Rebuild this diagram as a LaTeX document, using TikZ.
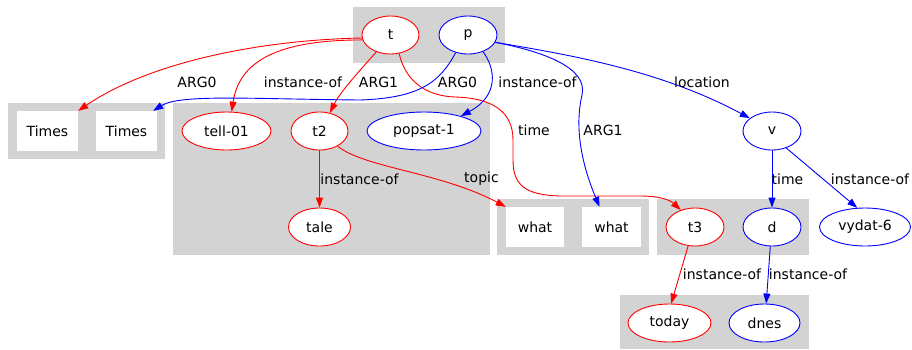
\documentclass[tikz,border=0pt]{standalone}
\usepackage{fontspec}
\setmainfont{DejaVu Sans}
\usetikzlibrary{shapes.geometric,arrows.meta}
\definecolor{clgray}{RGB}{211,211,211}
\begin{document}
\begin{tikzpicture}[x=1pt,y=-1pt,
  font=\fontsize{14}{16}\selectfont,
  ell/.style={ellipse,draw,fill=white,inner sep=0pt,minimum height=38pt,line width=0.9pt},
  rnode/.style={ell,draw=red},
  bnode/.style={ell,draw=blue},
  wbox/.style={rectangle,fill=white,draw=none,minimum width=60pt,minimum height=40pt,inner sep=0pt},
  redge/.style={draw=red,line width=0.9pt,-{Triangle[length=10pt,width=7pt]}},
  bedge/.style={draw=blue,line width=0.9pt,-{Triangle[length=10pt,width=7pt]}},
  lbl/.style={inner sep=0pt,text=black}
]
\useasboundingbox (0,0) rectangle (912,349);
% clusters
\fill[clgray] (353,7) rectangle (505,63);
\fill[clgray] (8,103) rectangle (165,159);
\fill[clgray] (173,103) rectangle (490,255);
\fill[clgray] (497,199) rectangle (649,255);
\fill[clgray] (657,199) rectangle (809,255);
\fill[clgray] (620,295) rectangle (809,349);

% nodes
\node[rnode,minimum width=57pt] (t) at (390.5,35) {t};
\node[bnode,minimum width=58pt] (p) at (468,35) {p};
\node[wbox,minimum width=61pt] (times1) at (47.5,131) {Times};
\node[wbox,minimum width=61pt] (times2) at (126.5,131) {Times};
\node[rnode,minimum width=89pt] (tell) at (226.5,131) {tell-01};
\node[rnode,minimum width=57pt] (t2) at (319.5,131) {t2};
\node[bnode,minimum width=114pt] (popsat) at (424,131) {popsat-1};
\node[rnode,minimum width=62pt] (tale) at (319.5,227) {tale};
\node[wbox,minimum width=58pt] (what1) at (535,227) {what};
\node[wbox,minimum width=59pt] (what2) at (611.5,227) {what};
\node[rnode,minimum width=58pt] (t3) at (695,227) {t3};
\node[bnode,minimum width=58pt] (d) at (772,227) {d};
\node[bnode,minimum width=58pt] (v) at (772,131) {v};
\node[bnode,minimum width=91pt] (vydat) at (865,227) {vydat-6};
\node[rnode,minimum width=83pt] (today) at (669.5,323) {today};
\node[bnode,minimum width=71pt] (dnes) at (764.5,323) {dnes};

% red edges
\draw[redge] (t.186) .. controls (260,40) and (150,62) .. (times1.north east);
\draw[redge] (t.190) .. controls (290,40) and (240,55) .. (tell.75);
\draw[redge] (t.230) .. controls (362,68) and (340,92) .. (t2.60);
\draw[redge] (t.295) .. controls (405,80) and (425,96) .. (455,97)
  .. controls (490,98) and (513,110) .. (513,140) -- (513,160)
  .. controls (513,185) and (525,195) .. (560,196) -- (640,196)
  .. controls (660,196) and (670,200) .. (t3.130);
\draw[redge] (t2.south) -- (tale.north);
\draw[redge] (t2.320) .. controls (365,168) and (440,172) .. (what1.north west);
\draw[redge] (t3.250) -- (today.85);

% blue edges
\draw[bedge] (p.235) .. controls (440,82) and (420,98) .. (360,100)
  .. controls (250,99) and (180,94) .. ([xshift=-4pt]times2.north east);
\draw[bedge] (p.312) .. controls (495,68) and (500,95) .. (popsat.22);
\draw[bedge] (p.345) .. controls (545,52) and (588,68) .. (582,95)
  .. controls (575,125) and (580,160) .. ([xshift=-12pt]what2.north);
\draw[bedge] (p.345) .. controls (570,55) and (660,70) .. (v.150);
\draw[bedge] (v.south) -- (d.north);
\draw[bedge] (v.310) -- (vydat.112);
\draw[bedge] (d.265) -- (dnes.85);

% labels
\node[lbl] (l1) at (197,82) {ARG0};
\node[lbl] (l2) at (303,82) {instance-of};
\node[lbl] (l3) at (378.5,82) {ARG1};
\node[lbl] (l4) at (457.5,82) {ARG0};
\node[lbl] (l5) at (537.5,82) {instance-of};
\node[lbl] (l6) at (702,82) {location};
\node[lbl] (l7) at (534,130) {time};
\node[lbl] (l8) at (603,130) {ARG1};
\node[lbl] (l9) at (359.5,179) {instance-of};
\node[lbl] (l10) at (481.5,179) {topic};
\node[lbl] (l11) at (787.5,179) {time};
\node[lbl] (l12) at (870,179) {instance-of};
\node[lbl] (l13) at (722,274) {instance-of};
\node[lbl] (l14) at (808,274) {instance-of};
\end{tikzpicture}
\end{document}
